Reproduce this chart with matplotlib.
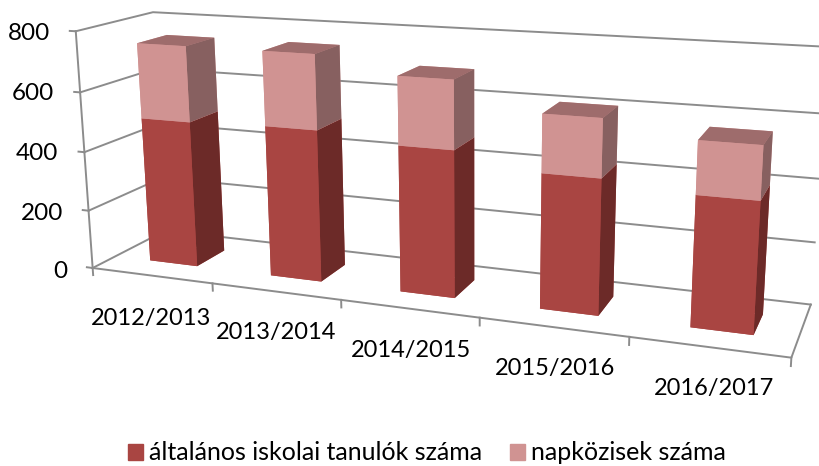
import numpy as np
import matplotlib
matplotlib.use('Agg')
import matplotlib.pyplot as plt
from matplotlib.patches import Patch

plt.rcParams['font.family'] = ['Lato', 'DejaVu Sans']

# data
years = ['2012/2013', '2013/2014', '2014/2015', '2015/2016', '2016/2017']
tanulok = [495, 503, 476, 428, 404]
napkozik = [252, 244, 219, 182, 162]
value_ticks = [0, 200, 400, 600, 800]
series_names = ['általános iskolai tanulók száma', 'napközisek száma']

W, H = 820, 466
GRID = '#8c8c8c'
# bottom, top, front, back, left, right
RED_FACES = ['#a94542', '#a94542', '#a94542', '#a94542', '#a94542', '#6c2a28']
PINK_FACES = ['#d09392', '#9e6c6c', '#d09392', '#d09392', '#d09392', '#876060']

fig = plt.figure(figsize=(W/100, H/100), dpi=100)

# camera fitted to the corners of the reference chart box
cx, cy, S = 431.5588, 168.3382, 258.3927
ax = fig.add_axes([(cx-S/2)/W, 1-(cy+S/2)/H, S/W, S/H], projection='3d')
ax.set_xlim(0, 5)
ax.set_ylim(0, 1)
ax.set_zlim(0, 800)
ax.margins(0)
ax.view_init(elev=14.2971, azim=-68.7223, roll=0.4291)
ax.set_box_aspect((2.8661, 0.5705, 1), zoom=2.9541)
ax.set_axis_off()
ax.computed_zorder = False

# walls and floor
for v in value_ticks:
    ax.plot([0, 0, 5], [0, 1, 1], [v, v, v], color=GRID, lw=1.4, zorder=1)
    ax.plot([-0.05, 0], [0, 0], [v, v], color=GRID, lw=1.4, zorder=1)
ax.plot([0, 0], [0, 0], [0, 800], color=GRID, lw=1.4, zorder=1)
ax.plot([0, 5, 5], [0, 0, 1], [0, 0, 0], color=GRID, lw=1.4, zorder=1)
for i in range(6):
    ax.plot([i, i], [0, 0], [0, -25], color=GRID, lw=1.4, zorder=1)

# stacked bars
n = len(years)
pos = np.arange(n)*1.007 + 0.3
ax.bar3d(pos, [0.3]*n, [0]*n, [0.4]*n, [0.4]*n, tanulok, color=RED_FACES*n,
         shade=False, linewidth=0, zorder=2)
ax.bar3d(pos, [0.3]*n, tanulok, [0.4]*n, [0.4]*n, napkozik, color=PINK_FACES*n,
         shade=False, linewidth=0, zorder=3)

for art in ax.get_children():
    art.set_clip_on(False)

# axis labels
tick_xy = [(67, 271), (63, 213), (58, 154), (54, 94), (50, 33)]
for v, (x, y) in zip(value_ticks, tick_xy):
    fig.text(x/W, 1-y/H, str(v), ha='right', va='center', fontsize=17.5)

label_xy = [(151, 318), (276, 333), (411, 351), (555, 369), (714, 389)]
for name, (x, y) in zip(years, label_xy):
    fig.text(x/W, 1-y/H, name, ha='center', va='center', fontsize=17)

handles = [Patch(color='#a94542'), Patch(color='#d09392')]
fig.legend(handles, series_names, loc='center', bbox_to_anchor=(427/W, 1-453/H), ncol=2,
           frameon=False, fontsize=18, handlelength=0.6, handleheight=0.6,
           handletextpad=0.24, columnspacing=1.08, borderpad=0)

fig.savefig('out.png', dpi=100)
